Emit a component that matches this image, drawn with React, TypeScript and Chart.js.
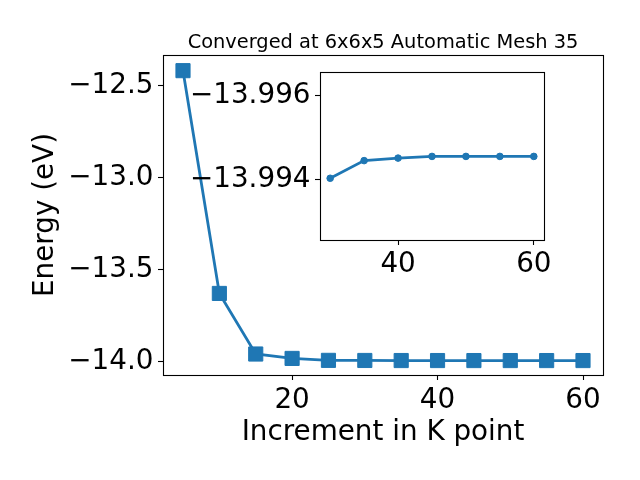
import React, { useEffect, useRef } from 'react';
import { Chart, registerables } from 'chart.js';

Chart.register(...registerables);

// ---- Data ----
const kPoints = [5, 10, 15, 20, 25, 30, 35, 40, 45, 50, 55, 60];
const energies = [-12.42, -13.63, -13.959, -13.983, -13.9935, -13.99404, -13.99446, -13.99452, -13.99456, -13.99456, -13.99456, -13.99456];

const insetKPoints = [30, 35, 40, 45, 50, 55, 60];
const insetEnergies = [-13.99404, -13.99446, -13.99452, -13.99456, -13.99456, -13.99456, -13.99456];

const mainXTicks = [20, 40, 60];
const mainYTicks = [-14.0, -13.5, -13.0, -12.5];
const insetXTicks = [40, 60];
const insetYTicks = [-13.996, -13.994];

const titleText = 'Converged at 6x6x5 Automatic Mesh 35';
const xLabel = 'Increment in K point';
const yLabel = 'Energy (eV)';

const BLUE = '#1f77b4';
const FONT = 'DejaVu Sans';
const BIG = 27.8;

const minus = (s: string) => s.replace('-', '\u2212');

const framePlugin = {
  id: 'frame',
  beforeDraw(chart: any, _args: any, opts: any) {
    if (!opts || !opts.fillWhite) return;
    const { ctx, chartArea } = chart;
    ctx.save();
    ctx.fillStyle = '#ffffff';
    ctx.fillRect(chartArea.left, chartArea.top, chartArea.right - chartArea.left, chartArea.bottom - chartArea.top);
    ctx.restore();
  },
  afterDraw(chart: any, _args: any, opts: any) {
    const { ctx, chartArea } = chart;
    const l = Math.round(chartArea.left) + 0.5;
    const t = Math.round(chartArea.top) + 0.5;
    const r = Math.round(chartArea.right) + 0.5;
    const b = Math.round(chartArea.bottom) + 0.5;
    ctx.save();
    ctx.strokeStyle = '#000';
    ctx.lineWidth = 1.1;
    ctx.strokeRect(l, t, r - l, b - t);
    if (opts && opts.title) {
      ctx.fillStyle = '#000';
      ctx.font = `normal 19.4px "${FONT}"`;
      ctx.textAlign = 'center';
      ctx.textBaseline = 'alphabetic';
      ctx.fillText(opts.title, (chartArea.left + chartArea.right) / 2, chartArea.top - 7);
    }
    ctx.restore();
  },
};

const gridOpts = {
  display: true,
  drawOnChartArea: false,
  drawTicks: true,
  tickLength: 5,
  tickColor: '#000',
  tickWidth: 1.1,
  color: '#000',
};

export default function App() {
  const mainRef = useRef<HTMLCanvasElement>(null);
  const insetRef = useRef<HTMLCanvasElement>(null);

  useEffect(() => {
    document.body.style.margin = '0';
    Chart.defaults.font.family = FONT;
    Chart.defaults.color = '#000';

    const main = new Chart(mainRef.current as HTMLCanvasElement, {
      type: 'line',
      data: {
        labels: kPoints,
        datasets: [
          {
            data: kPoints.map((k, i) => ({ x: k, y: energies[i] })),
            borderColor: BLUE,
            backgroundColor: BLUE,
            borderWidth: 2.8,
            pointStyle: 'rect',
            pointRadius: 10,
            pointBorderWidth: 1,
            pointBorderColor: BLUE,
            pointBackgroundColor: BLUE,
            tension: 0,
            fill: false,
          },
        ],
      },
      options: {
        responsive: false,
        animation: false,
        devicePixelRatio: 1,
        layout: { padding: { left: 0, right: 37, top: 55, bottom: 0 } },
        plugins: {
          legend: { display: false },
          tooltip: { enabled: false },
          title: { display: false },
          frame: { title: titleText },
        } as any,
        scales: {
          x: {
            type: 'linear',
            min: 2.25,
            max: 62.75,
            grid: gridOpts,
            border: { display: false },
            afterBuildTicks: (s: any) => {
              s.ticks = mainXTicks.map((v) => ({ value: v }));
            },
            afterFit: (s: any) => {
              s.height = 105;
            },
            ticks: {
              color: '#000',
              padding: 7,
              maxRotation: 0,
              autoSkip: false,
              font: { family: FONT, size: BIG, lineHeight: 1 },
              callback: (v: any) => minus(String(v)),
            },
            title: {
              display: true,
              text: xLabel,
              color: '#000',
              font: { family: FONT, size: BIG, lineHeight: 1.2 },
              padding: { top: 0, bottom: 31 },
            },
          },
          y: {
            type: 'linear',
            min: -14.073,
            max: -12.335,
            grid: gridOpts,
            border: { display: false },
            afterBuildTicks: (s: any) => {
              s.ticks = mainYTicks.map((v) => ({ value: v }));
            },
            afterFit: (s: any) => {
              s.width = 163;
            },
            ticks: {
              color: '#000',
              padding: 4.5,
              autoSkip: false,
              font: { family: FONT, size: BIG, lineHeight: 1 },
              callback: (v: any) => minus(Number(v).toFixed(1)),
            },
            title: {
              display: true,
              text: yLabel,
              color: '#000',
              font: { family: FONT, size: BIG, lineHeight: 1.2 },
              padding: { top: 29, bottom: 0 },
            },
          },
        },
      } as any,
      plugins: [framePlugin],
    });

    const inset = new Chart(insetRef.current as HTMLCanvasElement, {
      type: 'line',
      data: {
        labels: insetKPoints,
        datasets: [
          {
            data: insetKPoints.map((k, i) => ({ x: k, y: insetEnergies[i] })),
            borderColor: BLUE,
            backgroundColor: BLUE,
            borderWidth: 2.8,
            pointStyle: 'circle',
            pointRadius: 3.3,
            pointBorderWidth: 1,
            pointBorderColor: BLUE,
            pointBackgroundColor: BLUE,
            tension: 0,
            fill: false,
          },
        ],
      },
      options: {
        responsive: false,
        animation: false,
        devicePixelRatio: 1,
        layout: { padding: { left: 0, right: 36, top: 32, bottom: 0 } },
        plugins: {
          legend: { display: false },
          tooltip: { enabled: false },
          title: { display: false },
          frame: { fillWhite: true },
        } as any,
        scales: {
          x: {
            type: 'linear',
            min: 28.5,
            max: 61.5,
            grid: gridOpts,
            border: { display: false },
            afterBuildTicks: (s: any) => {
              s.ticks = insetXTicks.map((v) => ({ value: v }));
            },
            afterFit: (s: any) => {
              s.height = 50;
            },
            ticks: {
              color: '#000',
              padding: 6,
              maxRotation: 0,
              autoSkip: false,
              font: { family: FONT, size: BIG, lineHeight: 1 },
              callback: (v: any) => minus(String(v)),
            },
          },
          y: {
            type: 'linear',
            reverse: true,
            min: -13.99657,
            max: -13.99257,
            grid: gridOpts,
            border: { display: false },
            afterBuildTicks: (s: any) => {
              s.ticks = insetYTicks.map((v) => ({ value: v }));
            },
            afterFit: (s: any) => {
              s.width = 150;
            },
            ticks: {
              color: '#000',
              padding: 4.5,
              autoSkip: false,
              font: { family: FONT, size: BIG, lineHeight: 1 },
              callback: (v: any) => minus(Number(v).toFixed(3)),
            },
          },
        },
      } as any,
      plugins: [framePlugin],
    });

    return () => {
      main.destroy();
      inset.destroy();
    };
  }, []);

  return (
    <div style={{ position: 'absolute', left: 0, top: 0, width: 640, height: 480, background: '#fff' }}>
      <canvas ref={mainRef} width={640} height={480} style={{ position: 'absolute', left: 0, top: 0 }} />
      <canvas ref={insetRef} width={410} height={250} style={{ position: 'absolute', left: 170, top: 40 }} />
    </div>
  );
}
